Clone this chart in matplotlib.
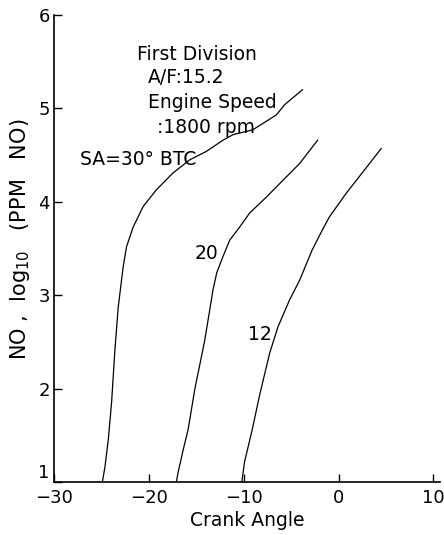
import matplotlib.pyplot as plt
import numpy as np

# curve SA=30 deg BTC
angle_30 = [-24.9, -24.63, -24.28, -23.93, -23.58, -23.23, -22.71, -22.35, -21.65, -20.6, -19.19,
            -17.44, -15.68, -13.93, -12.18, -11.1, -9.05, -6.56, -5.68, -3.8]
no_30 = [1.0, 1.16, 1.45, 1.85, 2.41, 2.87, 3.30, 3.52, 3.73, 3.95, 4.13,
         4.31, 4.45, 4.54, 4.66, 4.72, 4.77, 4.93, 5.04, 5.20]

# curve SA=20
angle_20 = [-17.1, -16.92, -16.39, -15.86, -15.16, -14.1, -13.23, -12.84, -12.2, -11.47, -10.42,
            -9.37, -7.61, -5.86, -4.1, -2.2]
no_20 = [1.0, 1.10, 1.34, 1.56, 1.99, 2.52, 3.06, 3.24, 3.41, 3.59, 3.73,
         3.88, 4.05, 4.23, 4.41, 4.66]

# curve SA=12
angle_12 = [-10.2, -9.9, -9.1, -8.32, -7.26, -6.39, -5.16, -4.1, -2.8, -1.7, -0.95, 0.8, 2.5, 4.5]
no_12 = [1.0, 1.22, 1.56, 1.93, 2.38, 2.66, 2.95, 3.16, 3.48, 3.70, 3.84, 4.09, 4.31, 4.57]

xticks = [-30, -20, -10, 0, 10]
xticklabels = ['\u221230', '\u221220', '\u221210', '0', '10']
yticks = [1, 2, 3, 4, 5, 6]

fig = plt.figure(figsize=(4.44, 5.35), dpi=100)
ax = fig.add_axes([54 / 444, 53 / 535, 386 / 444, 467 / 535])

for x, y in [(angle_30, no_30), (angle_20, no_20), (angle_12, no_12)]:
    ax.plot(x, y, color='black', linewidth=0.9)

ax.set_xlim(-30, 10.7)
ax.set_ylim(1, 6)
ax.set_xticks(xticks)
ax.set_xticklabels(xticklabels)
ax.set_yticks(yticks)
ax.tick_params(direction='in', length=6, width=1, labelsize=13)
ax.tick_params(axis='y', pad=3)
ax.tick_params(axis='x', pad=5)
# the "1" sits a bit above the corner
ax.get_yticklabels()[0].set_va('bottom')

for side in ['top', 'right']:
    ax.spines[side].set_visible(False)
for side in ['left', 'bottom']:
    ax.spines[side].set_linewidth(1.2)

ax.set_xlabel('Crank Angle', fontsize=13.5, labelpad=3)
ax.set_ylabel('NO ,  log$_{10}$   (PPM   NO)', fontsize=15)
ax.yaxis.set_label_coords(-0.057, 0.52)

#annotazioni
fs = 13.5
ax.text(-21.26, 5.58, 'First Division', fontsize=fs, va='center')
ax.text(-20.1, 5.33, 'A/F:15.2', fontsize=fs, va='center')
ax.text(-20.1, 5.06, 'Engine Speed', fontsize=fs, va='center')
ax.text(-19.16, 4.80, ':1800 rpm', fontsize=fs, va='center')
ax.text(-27.26, 4.45, 'SA=30° BTC', fontsize=fs, va='center')
ax.text(-13.9, 3.45, '20', fontsize=fs, ha='center', va='center')
ax.text(-8.32, 2.58, '12', fontsize=fs, ha='center', va='center')

fig.savefig('out.png', dpi=100)
